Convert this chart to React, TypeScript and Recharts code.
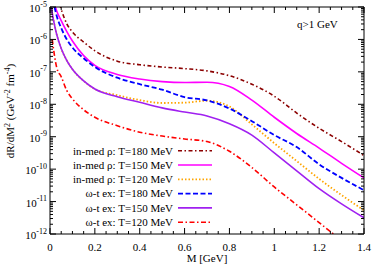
import { Legend, Line, LineChart, XAxis, YAxis } from "recharts";

// invariant mass grid [GeV]
const masses = [0.005, 0.01, 0.02, 0.03, 0.05, 0.075, 0.1, 0.15, 0.2, 0.3, 0.4, 0.5, 0.6, 0.7, 0.8, 0.9, 1.0, 1.1, 1.2, 1.3, 1.4];

// log10 of dR/dM^2
const rho180 = [null, null, null, -4.6, -5.07, -5.52, -5.77, -6.08, -6.35, -6.67, -6.78, -6.85, -6.9, -6.97, -7.12, -7.38, -7.75, -8.27, -8.74, -9.15, -9.58];
const rho150 = [null, null, -4.9, -5.12, -5.42, -5.76, -6.05, -6.5, -6.8, -7.08, -7.22, -7.3, -7.33, -7.32, -7.45, -7.87, -8.4, -8.9, -9.35, -9.82, -10.27];
const rho120 = [-4.98, -5.2, -5.55, -5.85, -6.28, -6.65, -6.92, -7.28, -7.53, -7.72, -7.87, -7.96, -7.95, -7.89, -8.07, -8.62, -9.2, -9.75, -10.3, -10.8, -11.27];
const omega180 = [null, null, -5.0, -5.28, -5.65, -6.0, -6.25, -6.58, -6.85, -7.18, -7.38, -7.55, -7.78, -7.88, -8.13, -8.52, -8.95, -9.32, -9.85, -10.27, -10.65];
const omega150 = [-4.98, -5.2, -5.55, -5.85, -6.28, -6.65, -6.92, -7.28, -7.53, -7.77, -7.94, -8.11, -8.24, -8.36, -8.6, -8.95, -9.5, -10.05, -10.6, -11.07, -11.5];
const omega120 = [null, -6.0, -6.5, -6.87, -7.15, -7.58, -7.83, -8.17, -8.4, -8.66, -8.86, -8.98, -9.07, -9.15, -9.45, -9.95, -10.55, -11.1, -11.65, -12.2, null];

const legendLabels = [
  "in-med ρ: T=180 MeV",
  "in-med ρ: T=150 MeV",
  "in-med ρ: T=120 MeV",
  "ω-t ex: T=180 MeV",
  "ω-t ex: T=150 MeV",
  "ω-t ex: T=120 MeV",
];

const xMajorTicks = [0, 0.2, 0.4, 0.6, 0.8, 1, 1.2, 1.4];
const xMinorStep = 0.05;
const yDecades = [-12, -11, -10, -9, -8, -7, -6, -5];
const yMinorFactors = [2, 3, 4, 5, 6, 7, 8, 9];

const series = [
  { key: "rho180", color: "#8b0000", dash: "4 2.5 1.5 2.5", width: 1.6 },
  { key: "rho150", color: "#ff00ff", dash: undefined, width: 1.6 },
  { key: "rho120", color: "#ffa500", dash: "1.5 2", width: 1.8 },
  { key: "omega180", color: "#0000ff", dash: "5 2.5", width: 1.8 },
  { key: "omega150", color: "#a020f0", dash: undefined, width: 1.6 },
  { key: "omega120", color: "#ff0000", dash: "5 2.5 1.5 2.5", width: 1.6 },
];

const values = [rho180, rho150, rho120, omega180, omega150, omega120];
const rows = masses.map((m, i) => {
  const row: Record<string, number | null> = { m };
  series.forEach((s, j) => (row[s.key] = values[j][i]));
  return row;
});

const xTicks = Array.from({ length: Math.round(1.4 / xMinorStep) + 1 }, (_, i) => +(i * xMinorStep).toFixed(2));
const yTicks = yDecades.flatMap((d) =>
  d === -5 ? [d] : [d, ...yMinorFactors.map((k) => d + Math.log10(k))]
);

const serif = { fontFamily: '"Liberation Serif", "DejaVu Serif", serif' };
const isMajorX = (v: number) => xMajorTicks.some((t) => Math.abs(t - v) < 1e-6);
const isMajorY = (v: number) => Math.abs(v - Math.round(v)) < 1e-6;

function BottomTick({ x, y, payload }: any) {
  const major = isMajorX(payload.value);
  return (
    <g>
      <line x1={x} x2={x} y1={y} y2={y - (major ? 6 : 3)} stroke="#000" />
      {major && (
        <text x={x} y={y + 17} textAnchor="middle" fontSize={11} style={serif} fill="#000">
          {String(+payload.value.toFixed(1))}
        </text>
      )}
    </g>
  );
}

function TopTick({ x, y, payload }: any) {
  const major = isMajorX(payload.value);
  return <line x1={x} x2={x} y1={y} y2={y + (major ? 6 : 3)} stroke="#000" />;
}

function LeftTick({ x, y, payload }: any) {
  const major = isMajorY(payload.value);
  return (
    <g>
      <line x1={x} x2={x + (major ? 6 : 3)} y1={y} y2={y} stroke="#000" />
      {major && (
        <text x={x - 3} y={y + 5} textAnchor="end" fontSize={11} style={serif} fill="#000">
          10
          <tspan dy={-5.5} fontSize={8}>
            {Math.round(payload.value)}
          </tspan>
        </text>
      )}
    </g>
  );
}

function RightTick({ x, y, payload }: any) {
  const major = isMajorY(payload.value);
  return <line x1={x} x2={x - (major ? 6 : 3)} y1={y} y2={y} stroke="#000" />;
}

function LegendBox() {
  return (
    <svg width={220} height={95}>
      {legendLabels.map((label, i) => {
        const s = series[i];
        const y = 10.7 + i * 14.3;
        return (
          <g key={label}>
            <text x={173} y={y + 3.8} textAnchor="end" fontSize={11} style={serif} fill="#000">
              {label}
            </text>
            <line x1={178} x2={212} y1={y} y2={y} stroke={s.color} strokeWidth={s.width} strokeDasharray={s.dash} />
          </g>
        );
      })}
    </svg>
  );
}

export default function App() {
  return (
    <div style={{ position: "absolute", left: 0, top: 0, width: 374, height: 267, background: "#fff" }}>
      <LineChart width={374} height={267} data={rows} margin={{ top: 0, right: 0, bottom: 0, left: 0 }}>
        <XAxis
          dataKey="m"
          type="number"
          domain={[0, 1.4]}
          allowDataOverflow
          ticks={xTicks}
          interval={0}
          tickSize={0}
          tickMargin={0}
          height={33}
          tick={<BottomTick />}
          axisLine={{ stroke: "#000" }}
        />
        <XAxis
          xAxisId="top"
          orientation="top"
          dataKey="m"
          type="number"
          domain={[0, 1.4]}
          allowDataOverflow
          ticks={xTicks}
          interval={0}
          tickSize={0}
          tickMargin={0}
          height={7}
          tick={<TopTick />}
          axisLine={{ stroke: "#000" }}
        />
        <YAxis
          type="number"
          domain={[-12, -5]}
          allowDataOverflow
          ticks={yTicks}
          interval={0}
          tickSize={0}
          tickMargin={0}
          width={50}
          tick={<LeftTick />}
          axisLine={{ stroke: "#000" }}
        />
        <YAxis
          yAxisId="right"
          orientation="right"
          type="number"
          domain={[-12, -5]}
          allowDataOverflow
          ticks={yTicks}
          interval={0}
          tickSize={0}
          tickMargin={0}
          width={10}
          tick={<RightTick />}
          axisLine={{ stroke: "#000" }}
        />
        <Legend
          layout="vertical"
          align="center"
          verticalAlign="middle"
          content={<LegendBox />}
          wrapperStyle={{ left: 0, top: 140, width: 220, height: 95 }}
        />
        {series.map((s) => (
          <Line
            key={s.key}
            dataKey={s.key}
            type="monotone"
            stroke={s.color}
            strokeWidth={s.width}
            strokeDasharray={s.dash}
            dot={false}
            activeDot={false}
            isAnimationActive={false}
          />
        ))}
      </LineChart>
      <svg width={374} height={267} style={{ position: "absolute", left: 0, top: 0, pointerEvents: "none", ...serif }}>
        <text x={297} y={28} fontSize={11} fill="#000">
          q&gt;1 GeV
        </text>
        <text x={207} y={262} textAnchor="middle" fontSize={11} fill="#000">
          M [GeV]
        </text>
        <text transform="translate(14,111) rotate(-90)" textAnchor="middle" fontSize={11} fill="#000">
          dR/dM
          <tspan dy={-4} fontSize={8}>2</tspan>
          <tspan dy={4}> (GeV</tspan>
          <tspan dy={-4} fontSize={8}>-2</tspan>
          <tspan dy={4}> fm</tspan>
          <tspan dy={-4} fontSize={8}>-4</tspan>
          <tspan dy={4}>)</tspan>
        </text>
      </svg>
    </div>
  );
}
